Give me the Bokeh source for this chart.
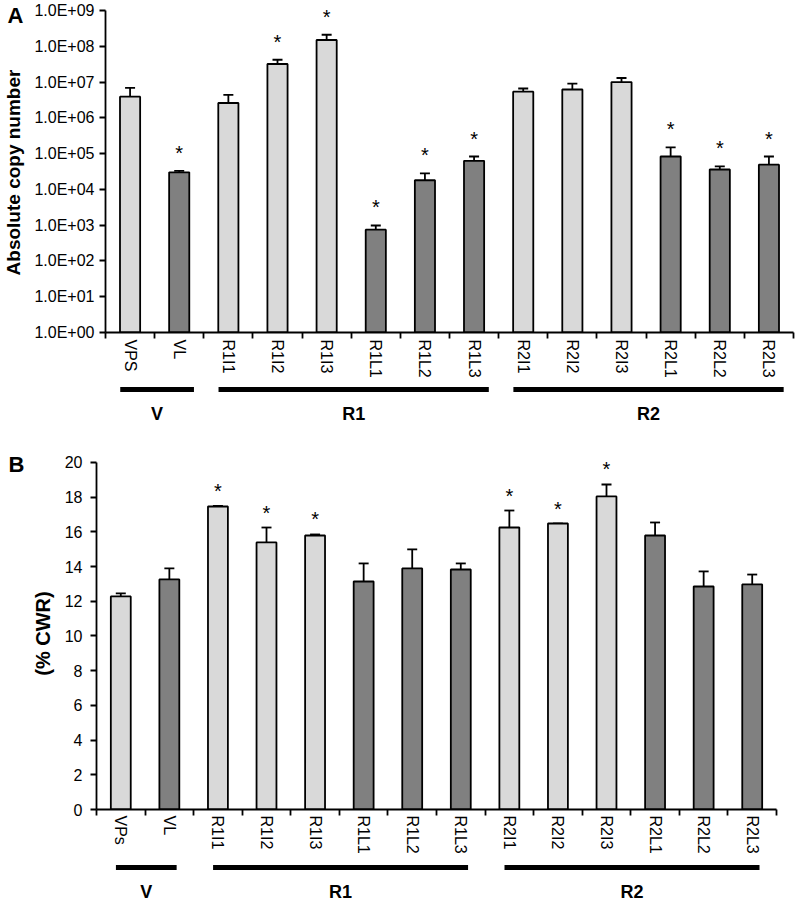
import math
from bokeh.plotting import figure
from bokeh.models import (Range1d, FixedTicker, CustomJSTickFormatter, Whisker,
                          TeeHead, ColumnDataSource)
from bokeh.layouts import column, row
from bokeh.embed import file_html
from bokeh.resources import INLINE
from bokeh.core.properties import value

# ---------------- data ----------------
categories_a = ["VPS", "VL", "R1I1", "R1I2", "R1I3", "R1L1", "R1L2", "R1L3",
                "R2I1", "R2I2", "R2I3", "R2L1", "R2L2", "R2L3"]
categories_b = ["VPs", "VL", "R1I1", "R1I2", "R1I3", "R1L1", "R1L2", "R1L3",
                "R2I1", "R2I2", "R2I3", "R2L1", "R2L2", "R2L3"]
tissue = ["I", "L", "I", "I", "I", "L", "L", "L", "I", "I", "I", "L", "L", "L"]

copy_number = [3.9e6, 3.0e4, 2.6e6, 3.2e7, 1.5e8, 7.5e2, 1.8e4, 6.3e4,
               5.4e6, 6.2e6, 1.0e7, 8.3e4, 3.6e4, 4.9e4]
copy_number_upper = [6.9e6, 3.3e4, 4.4e6, 4.2e7, 2.1e8, 9.8e2, 2.8e4, 8.3e4,
                     6.6e6, 9.1e6, 1.3e7, 1.5e5, 4.4e4, 8.3e4]
signif_a = [False, True, False, True, True, True, True, True,
            False, False, False, True, True, True]

cwr = [12.28, 13.26, 17.46, 15.39, 15.79, 13.14, 13.89, 13.83,
       16.25, 16.48, 18.04, 15.79, 12.85, 12.97]
cwr_upper = [12.45, 13.90, 17.50, 16.25, 15.85, 14.18, 14.99, 14.18,
             17.23, 16.48, 18.73, 16.54, 13.72, 13.54]
signif_b = [False, False, True, True, True, False, False, False,
            True, True, True, False, False, False]

groups = ["V", "R1", "R2"]
group_first = [0, 2, 8]
group_last = [1, 7, 13]

log_ticks = [10 ** k for k in range(0, 10)]
cwr_ticks = list(range(0, 21, 2))

panel_a_letter = "A"
panel_b_letter = "B"
ylabel_a = "Absolute copy number"
ylabel_b = "(% CWR)"

# ---------------- style ----------------
FONT = "Liberation Sans"
COLORS = {"I": "#d9d9d9", "L": "#808080"}
W = 795
LW = 1.8
n = len(categories_a)
centers = [i + 0.5 for i in range(n)]
bounds = list(range(n + 1))
fill = [COLORS[t] for t in tissue]


def blank_fig(width, height):
    f = figure(width=width, height=height,
               x_range=Range1d(0, width), y_range=Range1d(height, 0),
               output_backend="svg", toolbar_location=None,
               x_axis_location=None, y_axis_location=None,
               min_border_left=0, min_border_right=0,
               min_border_top=0, min_border_bottom=0)
    f.xgrid.visible = False
    f.ygrid.visible = False
    f.outline_line_color = None
    return f


def side_fig(width, height, letter, letter_xy, ylabel, ylabel_xy, size):
    f = blank_fig(width, height)
    f.text(x=[letter_xy[0]], y=[letter_xy[1]], text=[letter],
           text_align="left", text_baseline="middle",
           text_font=value(FONT), text_font_style="bold",
           text_font_size="22px", text_color="black")
    f.text(x=[ylabel_xy[0]], y=[ylabel_xy[1]], text=[ylabel], angle=math.pi / 2,
           text_align="center", text_baseline="middle",
           text_font=value(FONT), text_font_style="bold",
           text_font_size=size, text_color="black")
    return f


def style_common(p, x_standoff):
    p.xgrid.visible = False
    p.ygrid.visible = False
    p.outline_line_color = None
    for ax in p.xaxis + p.yaxis:
        ax.axis_line_color = "black"
        ax.axis_line_width = LW
        ax.major_tick_line_color = "black"
        ax.major_tick_line_width = LW
        ax.minor_tick_line_color = "black"
        ax.minor_tick_line_width = LW
        ax.major_label_text_font = FONT
        ax.major_label_text_font_size = "16px"
        ax.major_label_text_color = "black"
    xa = p.xaxis[0]
    xa.ticker = FixedTicker(ticks=centers, minor_ticks=bounds)
    xa.major_tick_in = 0
    xa.major_tick_out = 0
    xa.minor_tick_in = 0
    xa.minor_tick_out = 6
    xa.major_label_orientation = "vertical"
    xa.major_label_standoff = x_standoff
    ya = p.yaxis[0]
    ya.major_tick_in = 0
    ya.major_tick_out = 6
    ya.minor_tick_line_color = None
    ya.major_label_standoff = 5


def group_fig(x_range, left, right, height, bar_y, label_y, pad0, pad1):
    g = figure(width=W, height=height, x_range=x_range, y_range=Range1d(height, 0),
               output_backend="svg", toolbar_location=None,
               x_axis_location=None, y_axis_location=None,
               min_border_left=left, min_border_right=right,
               min_border_top=0, min_border_bottom=0)
    g.xgrid.visible = False
    g.ygrid.visible = False
    g.outline_line_color = None
    x0 = [f + pad0 for f in group_first]
    x1 = [l + pad1 for l in group_last]
    ys = [bar_y] * len(groups)
    g.segment(x0=x0, x1=x1, y0=ys, y1=ys, line_color="black", line_width=5)
    g.text(x=[(a + b) / 2 for a, b in zip(x0, x1)], y=[label_y] * len(groups),
           text=groups, text_align="center", text_baseline="middle",
           text_font=value(FONT), text_font_style="bold", text_font_size="18px",
           text_color="black")
    return g


# ---------------- panel A ----------------
SIDE_A = 27
p1 = figure(width=W - SIDE_A, height=380, y_axis_type="log",
            x_range=Range1d(0, n), y_range=Range1d(1, 1e9 * 10 ** 0.168),
            output_backend="svg", toolbar_location=None,
            min_border_left=105 - SIDE_A, min_border_right=2,
            min_border_top=4, min_border_bottom=48)
src1 = ColumnDataSource(dict(x=centers, top=copy_number, upper=copy_number_upper,
                             fill=fill, name=categories_a))
p1.vbar(x="x", top="top", bottom=1, width=0.41, source=src1,
        fill_color="fill", line_color="black", line_width=LW)
p1.add_layout(Whisker(base="x", lower="top", upper="upper", source=src1,
                      dimension="height", line_color="black", line_width=LW,
                      upper_head=TeeHead(size=10, line_width=LW, line_color="black"),
                      lower_head=None))
sx = [c for c, s in zip(centers, signif_a) if s]
sy = [u for u, s in zip(copy_number_upper, signif_a) if s]
p1.text(x=sx, y=sy, text=["*"] * len(sx), y_offset=-18,
        text_align="center", text_baseline="middle",
        text_font=value(FONT), text_font_size="20px", text_color="black")
style_common(p1, 1)
p1.yaxis[0].bounds = (1, 1e9)
p1.yaxis[0].ticker = FixedTicker(ticks=log_ticks)
p1.yaxis[0].formatter = CustomJSTickFormatter(code="""
    const k = Math.round(Math.log10(tick));
    return '1.0E+' + String(k).padStart(2, '0');
""")
p1.xaxis[0].formatter = CustomJSTickFormatter(args=dict(names=categories_a),
                                              code="return names[Math.floor(tick)];")
sa = side_fig(SIDE_A, 380, panel_a_letter, (7, 15), ylabel_a, (13, 172), "19px")
g1 = group_fig(p1.x_range, 105, 2, 48, 9, 33, 0.3, 0.8)

# ---------------- panel B ----------------
SIDE_B = 60
p2 = figure(width=W - SIDE_B, height=429,
            x_range=Range1d(0, n), y_range=Range1d(0, 20.4),
            output_backend="svg", toolbar_location=None,
            min_border_left=96 - SIDE_B, min_border_right=19,
            min_border_top=27, min_border_bottom=48)
src2 = ColumnDataSource(dict(x=centers, top=cwr, upper=cwr_upper,
                             fill=fill, name=categories_b))
p2.vbar(x="x", top="top", bottom=0, width=0.41, source=src2,
        fill_color="fill", line_color="black", line_width=LW)
p2.add_layout(Whisker(base="x", lower="top", upper="upper", source=src2,
                      dimension="height", line_color="black", line_width=LW,
                      upper_head=TeeHead(size=10, line_width=LW, line_color="black"),
                      lower_head=None))
sx2 = [c for c, s in zip(centers, signif_b) if s]
sy2 = [u for u, s in zip(cwr_upper, signif_b) if s]
p2.text(x=sx2, y=sy2, text=["*"] * len(sx2), y_offset=-15,
        text_align="center", text_baseline="middle",
        text_font=value(FONT), text_font_size="20px", text_color="black")
style_common(p2, 0)
p2.yaxis[0].bounds = (0, 20)
p2.yaxis[0].ticker = FixedTicker(ticks=cwr_ticks)
p2.yaxis[0].major_label_standoff = 8
p2.xaxis[0].formatter = CustomJSTickFormatter(args=dict(names=categories_b),
                                              code="return names[Math.floor(tick)];")
sb = side_fig(SIDE_B, 429, panel_b_letter, (8, 36), ylabel_b, (42, 205), "20px")
g2 = group_fig(p2.x_range, 96, 19, 45, 10, 34, 0.4, 0.65)

layout = column(
    column(row(column(sa, spacing=0), column(p1, spacing=0), spacing=0), g1, spacing=0),
    column(row(column(sb, spacing=0), column(p2, spacing=0), spacing=0), g2, spacing=0),
    spacing=0)
open("out.html", "w").write(file_html(layout, INLINE))
